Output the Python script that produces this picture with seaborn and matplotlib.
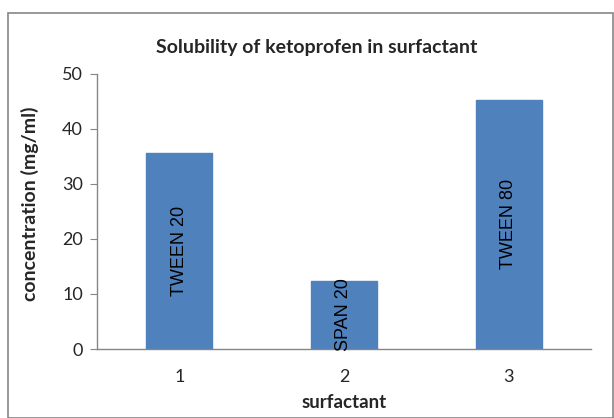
import matplotlib
matplotlib.use("Agg")
import matplotlib.pyplot as plt
import seaborn as sns
import pandas as pd
from matplotlib.patches import Rectangle

categories = ["1", "2", "3"]
values = [35.6, 12.4, 45.3]
bar_labels = ["TWEEN 20", "SPAN 20", "TWEEN 80"]
yticks = [0, 10, 20, 30, 40, 50]

sns.set_style("white")
plt.rcParams['font.family'] = ['Lato', 'DejaVu Sans']

df = pd.DataFrame({"surfactant": categories, "conc": values})

fig = plt.figure(figsize=(6.14, 4.18), dpi=100)
ax = fig.add_axes([97/614, 1-349/418, (591-97)/614, (349-74)/418])

sns.barplot(data=df, x="surfactant", y="conc", color="#4F81BD", width=0.4,
            saturation=1, ax=ax, edgecolor="#4F81BD")

ax.set_ylim(0, 50)
ax.set_yticks(yticks)
ax.set_xlim(-0.5, 2.5)
for s in ["top", "right"]:
    ax.spines[s].set_visible(False)
for s in ["left", "bottom"]:
    ax.spines[s].set_color("#868686")
    ax.spines[s].set_linewidth(1.0)
ax.tick_params(axis="y", which="both", left=True, length=5, color="#868686",
               labelsize=13, pad=5)
ax.tick_params(axis="x", bottom=False, labelsize=13, pad=11)

for i, (v, lab) in enumerate(zip(values, bar_labels)):
    ax.text(i, v / 2, lab, rotation=90, ha="center", va="center",
            fontsize=13, family=["Liberation Sans", "DejaVu Sans"], color="black")

ax.set_xlabel("surfactant", fontsize=13.5, fontweight="bold")
ax.set_ylabel("concentration (mg/ml)", fontsize=14, fontweight="bold")
ax.xaxis.set_label_coords(0.5, -0.165)
ax.yaxis.set_label_coords(-0.136, 0.527)
ax.yaxis.label.set_va("center")

fig.text(317/614, 1-47/418, "Solubility of ketoprofen in surfactant",
         ha="center", va="center", fontsize=14, fontweight="bold")

fig.patches.append(Rectangle((8/614, 0.0), 1 - 8/614 - 0.002, 1 - 13/418,
                             transform=fig.transFigure, fill=False,
                             edgecolor="#868686", linewidth=1.2))

fig.savefig("out.png", dpi=100)
